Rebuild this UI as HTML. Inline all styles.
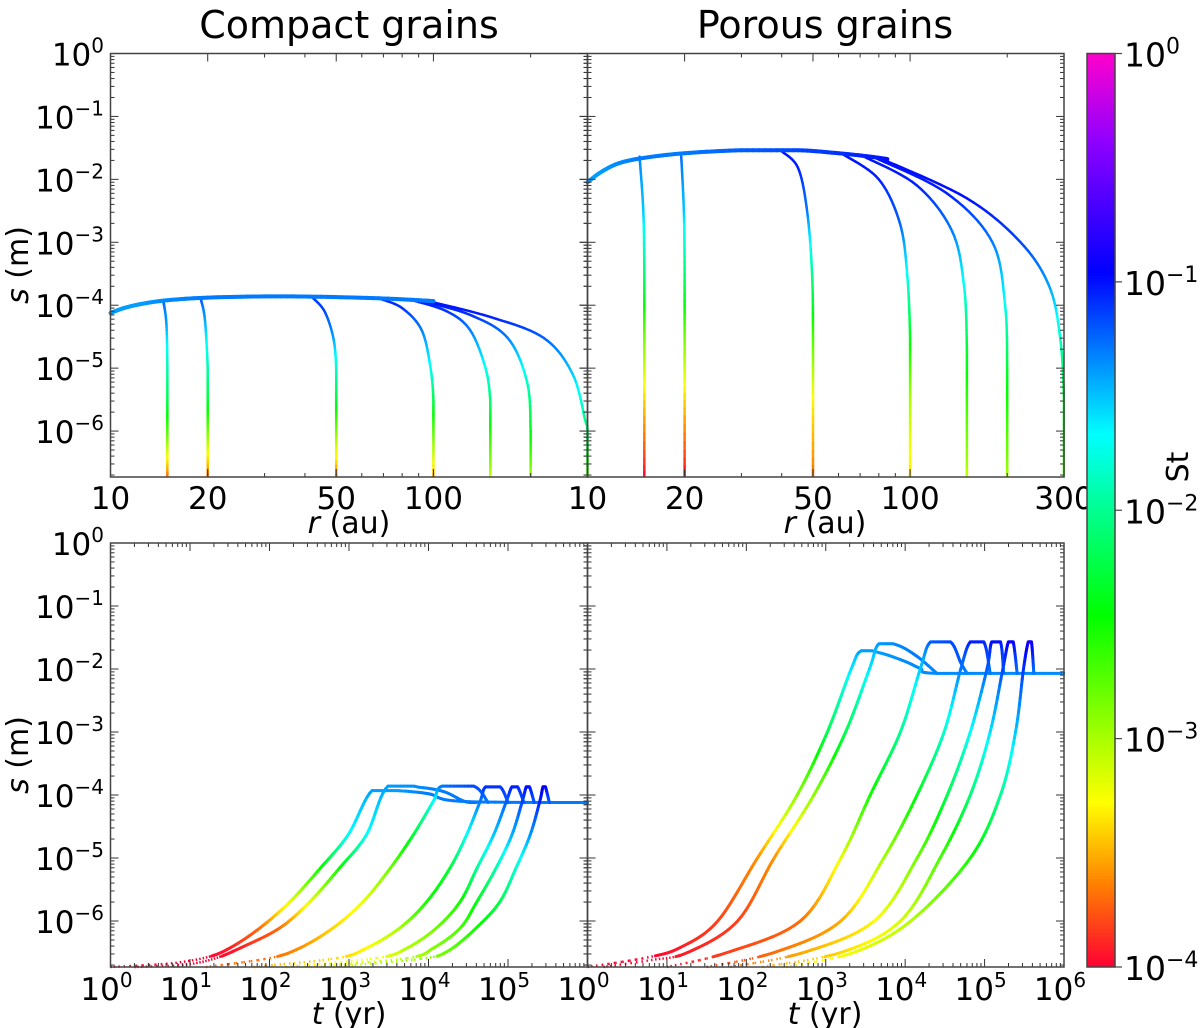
<!DOCTYPE html>
<html><head><meta charset="utf-8"><title>Grain growth</title>
<style>
html,body{margin:0;padding:0;background:#fff;}
svg{display:block;font-family:"DejaVu Sans","Liberation Sans",sans-serif;}
</style></head>
<body>
<svg id="fig" width="1200" height="1028" viewBox="0 0 1200 1028" xmlns="http://www.w3.org/2000/svg">
<defs>
<linearGradient id="cbgrad" x1="0" y1="1" x2="0" y2="0">
<stop offset="0" stop-color="#ff0033"/>
<stop offset="0.09" stop-color="#ff8000"/>
<stop offset="0.18" stop-color="#ffff00"/>
<stop offset="0.385" stop-color="#00ff00"/>
<stop offset="0.5" stop-color="#00ff90"/>
<stop offset="0.583" stop-color="#00ffff"/>
<stop offset="0.76" stop-color="#0000ff"/>
<stop offset="0.905" stop-color="#9000ff"/>
<stop offset="1" stop-color="#ff00cc"/>
</linearGradient>
</defs>
</svg>
<script>
// ---------- DATA ----------
const rTicksMajor = [10,20,50,100,300];
const rTicksMinor = [30,40,60,70,80,90,200];
const tTickExps = [0,1,2,3,4,5,6];
const sTickExps = [0,-1,-2,-3,-4,-5,-6];
const stTickExps = [0,-1,-2,-3,-4];

// Top-left: compact grains, s vs r  ([r, s, St])
const compactEnvelope = [[10,7.5e-5,.04],[11,9e-5,.04],[12.5,1.05e-4,.04],[15,1.2e-4,.045],[20,1.32e-4,.05],[30,1.38e-4,.05],[45,1.36e-4,.05],[70,1.28e-4,.05],[90,1.2e-4,.05],[100,1.16e-4,.05]];
const compactR15 = [[14.6,1.12e-4,.06],[14.9,5e-5,.04],[15,1e-5,.012],[15,3e-6,.006],[15,1e-6,.002],[15,5e-7,.0008],[15,1.9e-7,.0002]];
const compactR20 = [[19,1.3e-4,.07],[19.6,6e-5,.04],[20,1e-5,.012],[20,3e-6,.005],[20,1e-6,.0015],[20,4e-7,.0005],[20,1.9e-7,.0002]];
const compactR50 = [[42,1.36e-4,.08],[46,8e-5,.07],[49,3e-5,.04],[50,1e-5,.015],[50,3e-6,.005],[50,1e-6,.0015],[50,1.9e-7,.0002]];
const compactR100 = [[68,1.28e-4,.09],[80,9e-5,.08],[92,4e-5,.05],[98,1e-5,.02],[100,3e-6,.006],[100,1e-6,.002],[100,1.9e-7,.0003]];
const compactR150 = [[85,1.22e-4,.09],[110,8e-5,.08],[130,4e-5,.05],[145,1e-5,.02],[150,3e-6,.008],[150,1e-6,.003],[150,1.9e-7,.0008]];
const compactR200 = [[90,1.2e-4,.1],[130,7e-5,.08],[170,3e-5,.05],[195,6e-6,.015],[200,1e-6,.004],[200,1.9e-7,.001]];
const compactR300 = [[95,1.18e-4,.1],[150,6.5e-5,.09],[220,3e-5,.06],[270,8e-6,.03],[295,1.5e-6,.01],[300,1e-6,.008],[300,1.9e-7,.002]];

// Top-right: porous grains, s vs r
const porousEnvelope = [[10,9e-3,.04],[11,1.3e-2,.04],[12.5,1.8e-2,.045],[15,2.2e-2,.05],[20,2.6e-2,.05],[30,2.9e-2,.06],[45,2.9e-2,.07],[60,2.6e-2,.08],[75,2.3e-2,.09],[85,2.1e-2,.1]];
const porousR15 = [[14.5,2.3e-2,.05],[14.9,3e-3,.03],[15,3e-4,.008],[15,3e-5,.0015],[15,3e-6,.0004],[15,1.9e-7,.0001]];
const porousR20 = [[19.5,2.6e-2,.06],[19.9,3e-3,.03],[20,3e-4,.008],[20,3e-5,.0015],[20,3e-6,.0004],[20,1.9e-7,.0001]];
const porousR50 = [[40,2.8e-2,.1],[45,1.5e-2,.09],[48,3e-3,.05],[49.7,3e-4,.01],[50,3e-5,.002],[50,3e-6,.0005],[50,1.9e-7,.0002]];
const porousR100 = [[62,2.5e-2,.1],[80,1e-2,.09],[93,2e-3,.06],[98,3e-4,.02],[100,3e-5,.004],[100,3e-6,.001],[100,1.9e-7,.0004]];
const porousR150 = [[72,2.3e-2,.1],[105,8e-3,.09],[135,1.5e-3,.05],[147,2e-4,.02],[150,2e-5,.005],[150,2e-6,.002],[150,1.9e-7,.0008]];
const porousR200 = [[78,2.2e-2,.1],[130,6e-3,.09],[180,1e-3,.05],[197,1e-4,.02],[200,1e-5,.005],[200,1e-6,.002],[200,1.9e-7,.001]];
const porousR300 = [[82,2.1e-2,.1],[150,5e-3,.1],[220,1e-3,.07],[270,2e-4,.04],[292,3e-5,.015],[300,3e-6,.005],[300,1.9e-7,.002]];

// Bottom-left: compact grains, [log10 t, log10 s, St]
const compactT1 = [[0,-6.73,.0001],[0.7,-6.68,.0001],[1.2,-6.58,.0001],[1.5,-6.43,.00012],[1.88,-6.11,.0002],[2.26,-5.69,.0006],[2.64,-5.16,.003],[2.99,-4.63,.02],[3.29,-3.93,.04],[3.6,-3.93,.04],[4.0,-3.98,.05],[4.4,-4.1,.05],[6,-4.12,.05]];
const compactT2 = [[0.3,-6.73,.0001],[0.9,-6.7,.0001],[1.3,-6.6,.0001],[1.63,-6.43,.00012],[2.13,-6.11,.0002],[2.51,-5.69,.0006],[2.88,-5.16,.003],[3.22,-4.63,.02],[3.49,-3.86,.04],[3.9,-3.88,.045],[4.2,-3.95,.05],[4.45,-4.1,.05],[4.6,-4.12,.05]];
const compactT3 = [[1.2,-6.73,.0002],[2.0,-6.59,.0002],[2.38,-6.43,.00025],[2.8,-6.11,.0004],[3.18,-5.69,.0006],[3.52,-5.16,.0015],[3.81,-4.63,.005],[4.06,-4.1,.02],[4.17,-3.86,.05],[4.57,-3.86,.07],[4.75,-4.12,.05]];
const compactT4 = [[1.8,-6.73,.0003],[2.85,-6.59,.0004],[3.22,-6.43,.0005],[3.64,-6.11,.001],[3.98,-5.69,.003],[4.27,-5.16,.005],[4.48,-4.63,.02],[4.65,-4.1,.05],[4.72,-3.87,.08],[4.9,-3.87,.08],[5.0,-4.12,.06]];
const compactT5 = [[2.2,-6.73,.0004],[3.35,-6.59,.0006],[3.73,-6.43,.0009],[4.1,-6.11,.0015],[4.4,-5.69,.003],[4.61,-5.16,.01],[4.82,-4.63,.03],[4.98,-4.1,.06],[5.05,-3.87,.09],[5.12,-3.87,.09],[5.2,-4.12,.06]];
const compactT6 = [[2.5,-6.73,.0006],[3.73,-6.59,.0009],[4.06,-6.43,.0013],[4.4,-6.11,.002],[4.61,-5.69,.004],[4.85,-5.16,.012],[5.05,-4.63,.035],[5.18,-4.1,.07],[5.23,-3.87,.1],[5.27,-3.87,.1],[5.33,-4.12,.06]];
const compactT7 = [[2.8,-6.73,.0008],[3.9,-6.6,.0012],[4.24,-6.48,.0016],[4.6,-6.11,.003],[4.9,-5.69,.006],[5.1,-5.16,.015],[5.28,-4.63,.04],[5.4,-4.1,.09],[5.44,-3.87,.12],[5.47,-3.87,.12],[5.52,-4.12,.06]];

// Bottom-right: porous grains
const porousT1 = [[0,-6.73,.0001],[0.75,-6.58,.0001],[1.17,-6.42,.00012],[1.64,-6.0,.00015],[2.14,-5.0,.00025],[2.64,-4.0,.0012],[3.02,-3.0,.006],[3.32,-2.0,.025],[3.45,-1.71,.04],[3.7,-1.75,.04],[4.0,-1.88,.045],[4.19,-1.99,.045],[4.4,-2.07,.045],[6,-2.07,.045]];
const porousT2 = [[0.2,-6.73,.0001],[0.8,-6.62,.0001],[1.26,-6.5,.00012],[1.89,-6.0,.00015],[2.35,-5.0,.00025],[2.85,-4.0,.0012],[3.25,-3.0,.006],[3.55,-2.0,.025],[3.67,-1.6,.04],[3.9,-1.62,.045],[4.15,-1.8,.05],[4.4,-2.07,.045]];
const porousT3 = [[1.0,-6.73,.0001],[1.76,-6.5,.00015],[2.68,-6.0,.0002],[3.19,-5.0,.0006],[3.56,-4.0,.003],[3.94,-3.0,.01],[4.19,-2.0,.03],[4.32,-1.57,.06],[4.57,-1.57,.07],[4.7,-1.9,.06],[4.78,-2.07,.045]];
const porousT4 = [[1.5,-6.73,.00015],[2.35,-6.5,.0002],[3.19,-6.0,.0003],[3.73,-5.0,.001],[4.15,-4.0,.004],[4.49,-3.0,.015],[4.70,-2.0,.05],[4.82,-1.57,.09],[4.99,-1.57,.09],[5.07,-2.07,.05]];
const porousT5 = [[1.8,-6.73,.0002],[2.72,-6.5,.0003],[3.61,-6.0,.0005],[4.15,-5.0,.0015],[4.53,-4.0,.006],[4.82,-3.0,.02],[5.03,-2.0,.06],[5.09,-1.57,.1],[5.2,-1.57,.1],[5.24,-2.07,.05]];
const porousT6 = [[2.2,-6.73,.0003],[3.19,-6.5,.0004],[3.94,-6.0,.0007],[4.44,-5.0,.002],[4.82,-4.0,.008],[5.07,-3.0,.025],[5.23,-2.0,.07],[5.3,-1.57,.12],[5.36,-1.57,.12],[5.41,-2.07,.05]];
const porousT7 = [[2.5,-6.73,.0004],[3.35,-6.5,.0006],[4.07,-6.0,.0009],[4.82,-5.0,.003],[5.2,-4.0,.01],[5.39,-3.0,.03],[5.49,-2.0,.08],[5.55,-1.57,.14],[5.59,-1.57,.14],[5.62,-2.07,.05]];

// ---------- RENDER ----------
const NS = 'http://www.w3.org/2000/svg';
const svg = document.getElementById('fig');
function mk(tag, attrs, parent){ const e=document.createElementNS(NS,tag); for(const k in attrs) e.setAttribute(k,attrs[k]); (parent||svg).appendChild(e); return e; }

const cstops = [[0,[255,0,51]],[0.09,[255,128,0]],[0.18,[255,255,0]],[0.385,[0,255,0]],[0.5,[0,255,144]],[0.583,[0,255,255]],[0.76,[0,0,255]],[0.905,[144,0,255]],[1,[255,0,204]]];
function cmap(st){
  let f=(Math.log10(st)+4)/4; f=Math.max(0,Math.min(1,f));
  for(let i=1;i<cstops.length;i++){ if(f<=cstops[i][0]){ const a=cstops[i-1],b=cstops[i]; const u=(f-a[0])/(b[0]-a[0]); const c=a[1].map((v,j)=>Math.round(v+(b[1][j]-v)*u)); return 'rgb('+c.join(',')+')'; } }
  return 'rgb(255,0,204)';
}

const Y0=-6.73, Y1=0;
const panels = {
  tl:{x0:110.5,x1:587.5,y0:53.5,y1:477, xmin:1, xmax:Math.log10(300), name:'compact-radius-panel'},
  tr:{x0:587.5,x1:1064,y0:53.5,y1:477, xmin:1, xmax:Math.log10(300), name:'porous-radius-panel'},
  bl:{x0:110.5,x1:587.5,y0:543,y1:967, xmin:0, xmax:6, name:'compact-time-panel'},
  br:{x0:587.5,x1:1064,y0:543,y1:967, xmin:0, xmax:6, name:'porous-time-panel'}
};
function xs(p,lx){ return p.x0+(lx-p.xmin)/(p.xmax-p.xmin)*(p.x1-p.x0); }
function ys(p,ly){ return p.y1-(ly-Y0)/(Y1-Y0)*(p.y1-p.y0); }

function label(parent,x,y,base,sup,anchor,size,name){
  const t=mk('text',{x:x,y:y,'font-size':size,'text-anchor':anchor,fill:'#000'},parent);
  
  
  t.appendChild(document.createTextNode(base));
  if(sup!==null){ const s=mk('tspan',{dy:-13,'font-size':Math.round(size*0.66)},t); s.textContent=sup; }
  return t;
}

function drawAxes(p,key){
  const g=mk('g',{});
  
  
  for(let e=0;e>=-7;e--){
    for(let k=1;k<=9;k++){
      const ly=e+Math.log10(k); if(ly<Y0||ly>Y1) continue;
      const y=ys(p,ly), L=k===1?8:4;
      mk('line',{x1:p.x0,y1:y,x2:p.x0+L,y2:y,stroke:'#333','stroke-width':1},g);
      mk('line',{x1:p.x1,y1:y,x2:p.x1-L,y2:y,stroke:'#333','stroke-width':1},g);
      if(key==='tr'||key==='br') mk('line',{x1:p.x0,y1:y,x2:p.x0-L,y2:y,stroke:'#333','stroke-width':1},g);
    }
  }
  if(key==='tl'||key==='tr'){
    rTicksMajor.concat(rTicksMinor).forEach(r=>{
      const x=xs(p,Math.log10(r)), L=rTicksMajor.includes(r)?8:4;
      mk('line',{x1:x,y1:p.y1,x2:x,y2:p.y1-L,stroke:'#333'},g);
      mk('line',{x1:x,y1:p.y0,x2:x,y2:p.y0+L,stroke:'#333'},g);
    });
  } else {
    for(let e=0;e<6;e++) for(let k=1;k<=9;k++){
      const x=xs(p,e+Math.log10(k)), L=k===1?8:4;
      mk('line',{x1:x,y1:p.y1,x2:x,y2:p.y1-L,stroke:'#333'},g);
      mk('line',{x1:x,y1:p.y0,x2:x,y2:p.y0+L,stroke:'#333'},g);
    }
  }
  return g;
}

// smooth curve: clamped Catmull-Rom in log space, colour by interpolated log St
function drawCurve(p,pts,isLog,width,name){
  const g=mk('g',{});
  
  
  const L=pts.map(q=>[isLog?q[0]:Math.log10(q[0]), isLog?q[1]:Math.log10(q[1]), Math.log10(q[2])]);
  const N=L.length;
  function cr(a,b,c,d,u,k){ const u2=u*u,u3=u2*u; return 0.5*((2*b[k])+(-a[k]+c[k])*u+(2*a[k]-5*b[k]+4*c[k]-d[k])*u2+(-a[k]+3*b[k]-3*c[k]+d[k])*u3); }
  for(let i=0;i<N-1;i++){
    const a=L[Math.max(0,i-1)],b=L[i],c=L[i+1],d=L[Math.min(N-1,i+2)];
    const n=10;
    let prev=[b[0],b[1]];
    for(let j=1;j<=n;j++){
      const u=j/n;
      let x=cr(a,b,c,d,u,0), y=cr(a,b,c,d,u,1);
      x=Math.max(Math.min(b[0],c[0]),Math.min(Math.max(b[0],c[0]),x));
      y=Math.max(Math.min(b[1],c[1]),Math.min(Math.max(b[1],c[1]),y));
      y=Math.max(Y0,y);
      const lst=b[2]+(c[2]-b[2])*(u-0.5/n);
      const attrs={x1:xs(p,prev[0]),y1:ys(p,prev[1]),x2:xs(p,x),y2:ys(p,y),stroke:cmap(Math.pow(10,lst)),'stroke-width':width,'stroke-linecap':'round'};
      if(isLog && prev[1]<-6.55 && y<-6.55){ attrs['stroke-dasharray']='1.5 4'; attrs['stroke-width']=2.5; attrs['stroke-linecap']='butt'; }
      mk('line',attrs,g);
      prev=[x,y];
    }
  }
}

Object.keys(panels).forEach(k=>{ const p=panels[k]; mk('rect',{x:p.x0,y:p.y0,width:p.x1-p.x0,height:p.y1-p.y0,fill:'#fff'}); });

const P=panels;
drawCurve(P.tl,compactR15,false,2.5,'compact-r15-track');
drawCurve(P.tl,compactR20,false,2.5,'compact-r20-track');
drawCurve(P.tl,compactR50,false,2.5,'compact-r50-track');
drawCurve(P.tl,compactR100,false,2.5,'compact-r100-track');
drawCurve(P.tl,compactR150,false,2.5,'compact-r150-track');
drawCurve(P.tl,compactR200,false,2.5,'compact-r200-track');
drawCurve(P.tl,compactR300,false,2.5,'compact-r300-track');
drawCurve(P.tl,compactEnvelope,false,4,'compact-envelope');
drawCurve(P.tr,porousR15,false,2.5,'porous-r15-track');
drawCurve(P.tr,porousR20,false,2.5,'porous-r20-track');
drawCurve(P.tr,porousR50,false,2.5,'porous-r50-track');
drawCurve(P.tr,porousR100,false,2.5,'porous-r100-track');
drawCurve(P.tr,porousR150,false,2.5,'porous-r150-track');
drawCurve(P.tr,porousR200,false,2.5,'porous-r200-track');
drawCurve(P.tr,porousR300,false,2.5,'porous-r300-track');
drawCurve(P.tr,porousEnvelope,false,4,'porous-envelope');
[compactT1,compactT2,compactT3,compactT4,compactT5,compactT6,compactT7].forEach((c,i)=>drawCurve(P.bl,c,true,3,'compact-time-curve-'+(i+1)));
[porousT1,porousT2,porousT3,porousT4,porousT5,porousT6,porousT7].forEach((c,i)=>drawCurve(P.br,c,true,3,'porous-time-curve-'+(i+1)));

mk('rect',{x:0,y:477.5,width:1075,height:65,fill:'#fff'});
mk('rect',{x:1065,y:0,width:20,height:1028,fill:'#fff'});

Object.keys(panels).forEach(k=>{
  const p=panels[k];
  drawAxes(p,k);
  const fr=mk('rect',{x:p.x0,y:p.y0,width:p.x1-p.x0,height:p.y1-p.y0,fill:'none',stroke:'#444','stroke-width':1.5});
  
  
});

['tl','bl'].forEach(k=>{
  const p=panels[k];
  sTickExps.forEach(e=>{
    label(svg,104,ys(p,e)+12,'10',e===0?'0':'\u2212'+(-e),'end',31,'y-tick-label');
  });
});
['tl','tr'].forEach(k=>{
  const p=panels[k];
  rTicksMajor.forEach(r=>{
    if(k==='tl'&&r===300) return;
    label(svg,xs(p,Math.log10(r)),509,String(r),null,'middle',31,'x-tick-label');
  });
});
['bl','br'].forEach(k=>{
  const p=panels[k];
  tTickExps.forEach(e=>{
    if(k==='bl'&&e===6) return;
    label(svg,xs(p,e)-4,1000,'10',String(e),'middle',31,'x-tick-label');
  });
});

function titleText(x,y,html,size,name,rot){
  const t=mk('text',{x:x,y:y,'font-size':size,'text-anchor':'middle',fill:'#000'});
  if(rot) t.setAttribute('transform','rotate(-90 '+x+' '+y+')');
  
  
  t.innerHTML=html;
  return t;
}
titleText(349,38,'Compact grains',38,'title-compact');
titleText(825,38,'Porous grains',38,'title-porous');
titleText(349,533,'<tspan font-style="italic">r</tspan> (au)',30,'x-axis-title-r-left');
titleText(825,533,'<tspan font-style="italic">r</tspan> (au)',30,'x-axis-title-r-right');
titleText(349,1024,'<tspan font-style="italic">t</tspan> (yr)',30,'x-axis-title-t-left');
titleText(825,1024,'<tspan font-style="italic">t</tspan> (yr)',30,'x-axis-title-t-right');
titleText(28,265,'<tspan font-style="italic">s</tspan> (m)',30,'y-axis-title-top',true);
titleText(28,755,'<tspan font-style="italic">s</tspan> (m)',30,'y-axis-title-bottom',true);

const cb={x:1087,w:28,y0:53.5,y1:967};
const cbr=mk('rect',{x:cb.x,y:cb.y0,width:cb.w,height:cb.y1-cb.y0,fill:'url(#cbgrad)',stroke:'#444','stroke-width':1.5});


stTickExps.forEach(e=>{
  const y=cb.y1-(e+4)/4*(cb.y1-cb.y0);
  mk('line',{x1:cb.x+cb.w,y1:y,x2:cb.x+cb.w+7,y2:y,stroke:'#444','stroke-width':1.2});
  label(svg,1124,y+13,'10',e===0?'0':'\u2212'+(-e),'start',33,'colorbar-tick-label');
});
titleText(1188,467,'St',30,'colorbar-title',true);
</script>
</body></html>
